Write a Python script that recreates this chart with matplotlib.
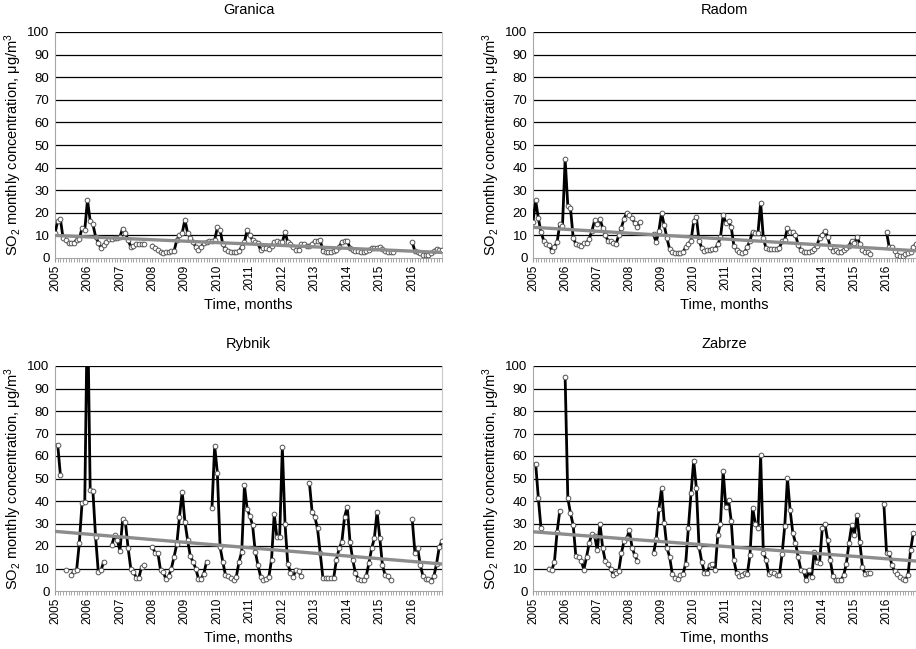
import numpy as np
import matplotlib
matplotlib.use("Agg")
import matplotlib.pyplot as plt

plt.rcParams['font.family'] = ['Liberation Sans', 'DejaVu Sans']
plt.rcParams['mathtext.fontset'] = 'custom'
plt.rcParams['mathtext.rm'] = 'Liberation Sans'
plt.rcParams['mathtext.it'] = 'Liberation Sans:italic'

N = None
years = list(range(2005, 2017))

# monthly SO2 concentrations, Jan 2005 .. Dec 2016 (None = missing month)
granica = [
    10.9, 16.4, 17.1, 8.7, 8.0, 6.5, 6.5, 6.8, 8.0, 8.5, 13.4, 12.4,
    25.7, 16.4, 15.0, 9.4, 6.8, 4.3, 5.8, 7.2, 8.3, 8.3, 8.7, 9.0,
    9.5, 13.0, 11.0, 8.0, 5.0, 5.5, 6.0, 6.0, 6.2, 6.2, N, N,
    5.5, 4.5, 3.5, 2.5, 2.0, 2.5, 2.5, 3.0, 3.0, 8.0, 10.0, 11.0,
    17.0, 11.0, 9.0, 7.0, 5.0, 3.5, 5.0, 6.5, 7.0, 7.5, 7.5, 8.0,
    13.5, 12.5, 6.0, 4.0, 3.0, 2.8, 2.5, 2.5, 3.0, 5.0, 7.0, 12.5,
    10.0, 8.0, 7.0, 6.5, 3.5, 4.5, 4.5, 4.0, 5.5, 7.0, 7.5, 7.0,
    7.0, 11.5, 7.0, 6.0, 5.0, 3.5, 3.5, 6.0, 6.0, 5.5, 5.5, 6.0,
    7.5, 7.5, 8.0, 3.0, 2.5, 2.5, 2.5, 3.0, 3.5, 5.0, 7.0, 7.5,
    7.5, 4.5, 3.5, 3.0, 3.0, 2.5, 2.5, 3.0, 3.5, 4.5, 4.5, 4.5,
    5.0, 4.0, 3.0, 2.5, 2.5, 2.5, N, N, N, N, N, N,
    7.0, 3.0, 2.5, 2.0, 1.5, 1.5, 1.5, 2.0, 3.0, 4.0, 3.5, 3.5,
]

radom = [
    16.0, 25.5, 17.5, 11.5, 7.7, 6.2, 5.8, 3.3, 5.0, 7.0, 15.0, 14.0,
    43.7, 23.0, 22.0, 9.0, 6.2, 5.8, 5.5, 6.5, 6.7, 8.5, 12.0, 16.6,
    15.0, 17.2, 13.4, 10.0, 7.7, 7.4, 6.8, 6.2, 10.0, 13.4, 17.4, 20.0,
    19.0, 17.5, 15.5, 13.5, 16.0, N, N, N, N, 10.4, 7.0, 12.0,
    20.0, 14.4, 8.8, 4.0, 2.5, 2.1, 2.1, 2.1, 2.5, 4.8, 6.2, 7.7,
    16.2, 18.0, 7.7, 4.5, 3.0, 3.6, 3.7, 3.9, 4.0, 6.0, 9.2, 19.0,
    15.5, 16.2, 13.7, 5.5, 3.6, 2.8, 2.0, 2.5, 4.8, 7.7, 11.7, 11.0,
    11.0, 24.4, 8.9, 4.3, 3.9, 3.9, 3.9, 4.0, 4.5, 7.4, 8.0, 13.4,
    11.7, 11.3, 10.3, 5.8, 3.6, 2.8, 2.8, 2.8, 3.3, 4.0, 5.5, 8.9,
    10.3, 11.9, 9.5, 4.8, 3.3, 3.6, 2.5, 2.8, 3.6, 4.3, 5.5, 7.7,
    6.5, 9.5, 6.2, 3.6, 2.8, 2.5, 1.8, N, N, N, N, N,
    11.4, 4.8, 4.8, 3.3, 1.5, 1.0, 1.0, 1.8, 2.2, 2.8, 5.0, 6.0,
]

rybnik = [
    N, 65.0, 51.5, N, 9.5, N, 7.0, 9.0, 9.5, 21.5, 39.3, 39.7,
    130.0, 45.0, 44.6, 24.0, 8.5, 9.2, 13.0, N, N, 20.4, 24.8, 22.6,
    18.0, 31.8, 30.8, 19.2, 10.0, 8.5, 6.0, 6.0, 10.7, 11.5, N, N,
    19.6, 17.0, 17.0, 9.2, 8.5, 5.2, 6.5, 10.0, 15.2, 20.8, 33.0, 44.2,
    30.8, 22.6, 15.5, 13.0, 10.0, 5.5, 5.5, 7.7, 13.0, N, 36.8, 64.6,
    52.4, 19.6, 13.0, 7.0, 6.5, 6.0, 5.0, 6.3, 13.0, 17.4, 47.0, 36.5,
    33.3, 29.3, 17.4, 11.5, 6.2, 4.8, 5.5, 6.2, 13.7, 34.2, 23.8, 23.8,
    64.0, 29.8, 12.2, 8.2, 6.2, 9.5, 8.9, 6.5, N, N, 48.2, 35.2,
    33.0, 27.8, 17.0, 5.8, 5.8, 5.8, 6.0, 6.0, 14.0, 18.9, 21.9, 33.0,
    37.5, 21.9, 14.0, 8.0, 5.5, 5.0, 4.8, 6.5, 12.5, 18.9, 23.4, 35.2,
    23.7, 11.5, 7.0, 6.5, 4.8, N, N, N, N, N, N, N,
    31.8, 17.0, 19.0, 11.5, 6.5, 5.5, 5.5, 4.5, 6.5, 12.2, 19.6, 22.2,
]

zabrze = [
    N, 56.5, 41.2, 27.8, N, N, 10.0, 9.2, 13.0, 26.3, 35.6, N,
    95.2, 41.2, 34.5, 29.3, 15.5, 15.2, 13.4, 9.5, 15.2, 21.4, 25.3, 24.6,
    18.2, 30.0, 19.3, 13.2, 11.8, 10.0, 7.0, 8.0, 8.8, 16.7, 22.3, 23.4,
    27.0, 19.2, 15.9, 13.4, N, N, N, N, N, 16.7, 22.9, 36.3,
    45.7, 30.4, 19.3, 15.2, 7.7, 6.0, 5.2, 7.0, 7.4, 12.2, 27.8, 43.5,
    58.0, 45.7, 19.6, 13.0, 8.2, 8.2, 11.5, 12.2, 9.2, 24.9, 30.0, 53.4,
    37.5, 40.5, 31.2, 13.7, 8.0, 6.5, 7.0, 8.2, 7.4, 15.9, 37.0, 30.0,
    28.1, 60.3, 17.0, 14.0, 7.7, 8.5, 8.2, 7.3, 7.0, 16.4, 29.0, 50.1,
    36.0, 25.9, 21.4, 15.2, 9.5, 8.8, 5.0, 9.2, 6.2, 17.4, 13.0, 12.5,
    27.8, 29.8, 22.6, 13.7, 6.5, 5.0, 5.0, 5.0, 7.0, 12.2, 21.4, 29.3,
    24.9, 33.8, 21.9, 10.7, 7.7, 8.0, 8.0, N, N, N, N, 38.7,
    17.0, 16.7, 11.5, 8.9, 7.4, 6.2, 5.5, 5.0, 7.0, 18.3, 25.9, N,
]

stations = ['Granica', 'Radom', 'Rybnik', 'Zabrze']
series = [granica, radom, rybnik, zabrze]

W, H = 916, 649
fig = plt.figure(figsize=(W / 100, H / 100), dpi=100)

# axes boxes in pixels: left, top, right, bottom
boxes = [(55, 32, 442, 258), (533, 32, 916, 258),
         (55, 366, 442, 591), (533, 366, 916, 591)]

for name, data, (l, t, r, b) in zip(stations, series, boxes):
    ax = fig.add_axes([l / W, 1 - b / H, (r - l) / W, (b - t) / H])
    y = np.array([np.nan if v is None else v for v in data], dtype=float)
    x = np.arange(len(y))

    for v in range(10, 101, 10):
        ax.axhline(v, color='black', lw=0.9, zorder=1)

    ax.plot(x, y, color='black', lw=2.0, zorder=3,
            marker='o', ms=3.4, mfc='white', mec='#555555', mew=0.7)

    # linear trend over the months that have data
    ok = ~np.isnan(y)
    k, c = np.polyfit(x[ok], y[ok], 1)
    ax.plot(x, k * x + c, color='#8c8c8c', lw=2.4, zorder=4)

    ax.set_xlim(0, 143)
    ax.set_ylim(0, 100)
    ax.set_yticks(range(0, 101, 10))
    ax.set_xticks(range(0, 144, 12))
    ax.set_xticklabels([str(yr) for yr in years], rotation=90, fontsize=8.5)
    ax.set_xticks(range(0, 144), minor=True)
    ax.tick_params(axis='x', which='both', length=3, color='#999999', pad=2)
    ax.tick_params(axis='y', length=0, labelsize=9.5, pad=4)

    ax.spines['top'].set_visible(False)
    ax.spines['left'].set_color('#a6a6a6')
    ax.spines['bottom'].set_color('#a6a6a6')
    ax.spines['right'].set_color('#c8c8c8')

    ax.set_title(name, fontsize=10.5, pad=13)
    ax.set_xlabel('Time, months', fontsize=10.5, labelpad=5)
    ax.set_ylabel(r'SO$_2$ monthly concentration, μg/m$^3$', fontsize=10.5)
    ax.yaxis.set_label_coords(-31 / (r - l), 0.5)

fig.savefig('out.png', dpi=100)
